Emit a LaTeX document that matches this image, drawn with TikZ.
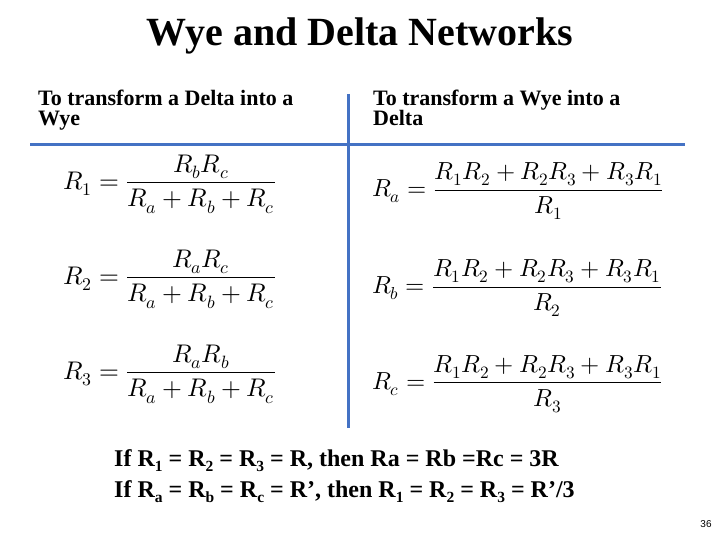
\documentclass[tikz,border=0pt]{standalone}
\usepackage{fontspec}
\usepackage{unicode-math}
\setmainfont{Liberation Serif}
\setmathfont{Latin Modern Math}
\newfontfamily\numfont{Liberation Sans}
\definecolor{lineblue}{HTML}{4472C4}
\newcommand{\lowsub}[1]{\raisebox{-5pt}{\fontsize{15.5}{15.5}\selectfont #1}}
\begin{document}
\begin{tikzpicture}[x=1pt,y=-1pt,
  titletext/.style={font=\bfseries\fontsize{40}{44}\selectfont, inner sep=0pt, anchor=base},
  headtext/.style={font=\bfseries\fontsize{22}{20.5}\selectfont, inner sep=0pt, align=left, anchor=base west},
  formula/.style={font=\fontsize{25.5}{30}\selectfont, inner sep=0pt, anchor=west},
  formulab/.style={font=\fontsize{24.7}{30}\selectfont, inner sep=0pt, anchor=west},
  bodytext/.style={font=\bfseries\fontsize{24}{28}\selectfont, inner sep=0pt, anchor=base west},
  divider/.style={draw=lineblue, line width=3pt}]
\useasboundingbox (0,0) rectangle (720,540);
\node[titletext] (title) at (360,46) {Wye and Delta Networks};
\node[headtext] (lefthead) at (38,126) {To transform a Delta into a\\Wye};
\node[headtext] (righthead) at (373,126) {To transform a Wye into a\\Delta};
\draw[divider] (30,145) -- (685,145);
\draw[divider] (348,94) -- (348,428);
\node[formula] (r1) at (63,184) {$\displaystyle R_1 = \frac{R_bR_c}{R_a+R_b+R_c}$};
\node[formula] (r2) at (63,279) {$\displaystyle R_2 = \frac{R_aR_c}{R_a+R_b+R_c}$};
\node[formula] (r3) at (63,374) {$\displaystyle R_3 = \frac{R_aR_b}{R_a+R_b+R_c}$};
\node[formulab] (ra) at (372,191) {$\displaystyle R_a = \frac{R_1R_2+R_2R_3+R_3R_1}{R_1}$};
\node[formulab] (rb) at (372,288) {$\displaystyle R_b = \frac{R_1R_2+R_2R_3+R_3R_1}{R_2}$};
\node[formulab] (rc) at (372,384) {$\displaystyle R_c = \frac{R_1R_2+R_2R_3+R_3R_1}{R_3}$};
\node[bodytext] (line1) at (114,466) {If R\lowsub{1} = R\lowsub{2} = R\lowsub{3} = R, then Ra = Rb =Rc = 3R};
\node[bodytext] (line2) at (114,497) {If R\lowsub{a} = R\lowsub{b} = R\lowsub{c} = R’, then R\lowsub{1} = R\lowsub{2} = R\lowsub{3} = R’/3};
\node[font=\numfont\fontsize{10}{12}\selectfont, inner sep=0pt] (page) at (706,524) {36};
\end{tikzpicture}
\end{document}
